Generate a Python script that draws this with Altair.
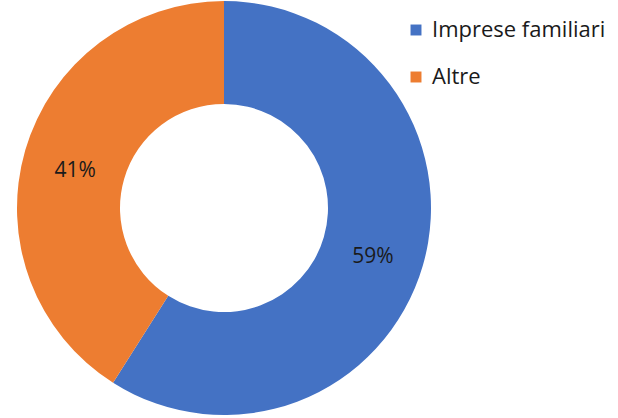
import altair as alt
import pandas as pd

categories = ["Imprese familiari", "Altre"]
values = [59, 41]
labels = ["59%", "41%"]
colors = ["#4472C4", "#ED7D31"]

df = pd.DataFrame({
    "category": categories,
    "value": values,
    "label": labels,
    "order": list(range(len(categories))),
})

CX, CY = 224, 208

base = alt.Chart(df).encode(
    theta=alt.Theta("value:Q", stack=True),
    order=alt.Order("order:Q"),
)

arcs = base.mark_arc(outerRadius=207, innerRadius=104, x=CX, y=CY).encode(
    color=alt.Color(
        "category:N",
        sort=categories,
        scale=alt.Scale(domain=categories, range=colors),
        legend=alt.Legend(
            title=None,
            orient="none",
            legendX=405,
            legendY=19,
            symbolType="square",
            symbolSize=120,
            symbolStrokeWidth=0,
            labelFontSize=22,
            labelFont="Open Sans",
            labelColor="#1a1a1a",
            labelLimit=0,
            rowPadding=25,
            labelOffset=5,
        ),
    )
)

text = base.mark_text(radius=155, x=CX, y=CY, dy=6, fontSize=21, font="Open Sans", color="#1a1a1a").encode(
    text="label:N"
)

chart = (arcs + text).properties(
    width=618, height=418, autosize=alt.AutoSizeParams(type="none"), padding=0
).configure_view(stroke=None).configure(background="white")

chart.save("out.html", embed_options={"renderer": "svg", "actions": False})
